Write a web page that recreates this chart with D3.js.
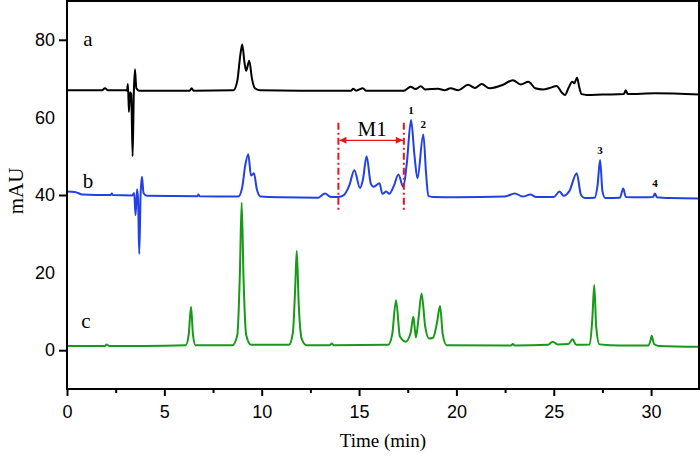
<!DOCTYPE html>
<html>
<head>
<meta charset="utf-8">
<script src="https://cdn.jsdelivr.net/npm/d3@7/dist/d3.min.js"></script>
<style>
  html, body { margin: 0; padding: 0; background: #fff; }
  svg { display: block; }
</style>
</head>
<body>
<svg id="chart" width="700" height="461"></svg>
<script>
// ---- data (time in min, absorbance in mAU) ----
const traceA = [
  [0,67],[1.8,67],[1.95,67.5],[2.1,67],[3.0,67],[3.08,66.9],[3.13,68.6],[3.18,61.4],[3.24,66.5],
  [3.3,66],[3.37,50],[3.43,66],[3.49,72.4],[3.56,67.5],[3.7,66.9],[6.3,66.9],[6.4,67.5],[6.5,66.9],
  [8.55,67],[8.75,69.5],[8.9,76],[9.0,78.8],[9.12,74],[9.2,72],[9.36,74.6],[9.5,70],[9.65,67.5],
  [9.9,67],[12,66.9],[14.6,66.9],[14.7,67.4],[14.85,66.9],[15.2,67.5],[15.35,66.9],[17.3,66.9],
  [17.65,67.9],[17.9,67.3],[18.17,68],[18.4,67.2],[19.06,67.4],[19.4,67],[19.7,67.5],[20.1,67],
  [20.6,68.4],[20.95,67.6],[21.3,68.6],[21.7,67.5],[22.4,68.4],[22.9,69.6],[23.3,68.5],[23.7,69.2],
  [24.05,67.5],[24.45,67.2],[24.8,67.6],[25.15,68.1],[25.4,66.5],[25.58,65.8],[25.75,67.5],
  [25.95,69.2],[26.05,68.8],[26.2,70.2],[26.3,68],[26.43,66],[26.7,65.8],[27.5,65.9],[28.6,66],
  [28.7,67],[28.8,66],[29.5,66.1],[30.2,66.2],[32.5,65.9]
];
const traceB = [
  [0,40.9],[0.4,40.8],[0.8,40.1],[1.5,40],[2.25,40],[2.3,40.4],[2.35,40],[3.35,39.9],[3.45,40.5],
  [3.52,34.8],[3.6,41.5],[3.65,39],[3.71,24.8],[3.78,40],[3.85,44.7],[3.93,40.5],[4.1,39.8],
  [6.7,39.7],[6.75,40.1],[6.8,39.7],[8.8,39.6],[9.0,42],[9.15,47.5],[9.31,50.5],[9.45,45],
  [9.6,45.6],[9.75,41.5],[9.95,39.6],[11,39.4],[12.9,39.3],[13.25,40.4],[13.55,39.5],[13.94,39.5],
  [14.2,39.9],[14.5,42.5],[14.76,46.4],[15.05,41.8],[15.2,44],[15.39,50],[15.6,43],[15.75,42.1],
  [16.05,43],[16.2,40.3],[16.4,40.9],[16.55,40.3],[16.8,42.5],[17.02,45.3],[17.27,42.1],[17.45,48],
  [17.67,59.3],[17.85,50],[18.0,44.3],[18.3,55.6],[18.45,45],[18.56,39.7],[18.8,39.5],[20,39.4],
  [22.5,39.6],[23.0,40.4],[23.4,39.6],[23.8,40.1],[24.1,39.5],[25,39.5],[25.3,40.9],[25.5,39.8],
  [25.8,41],[26.18,45.6],[26.4,40],[26.6,39.2],[27.1,39.3],[27.25,42.5],[27.38,49.0],[27.5,41],
  [27.65,39.2],[28.4,39.3],[28.57,41.7],[28.7,39.5],[29.5,39.4],[30.1,39.5],[30.2,40.4],[30.3,39.4],
  [31,39.2],[32.5,39.1]
];
const traceC = [
  [0,1.1],[1.95,1.1],[2.04,1.5],[2.15,1.1],[4,1.1],[6.1,1.3],[6.25,4],[6.37,11.2],[6.47,4],[6.6,1.3],
  [8.5,1.3],[8.75,4],[8.88,20],[8.97,38.0],[9.07,18],[9.2,4],[9.45,1.4],[11.4,1.4],[11.6,4.5],
  [11.72,16],[11.8,25.6],[11.9,12],[12.05,3],[12.3,1.3],[13.5,1.3],[13.6,1.7],[13.7,1.3],[16.5,1.4],
  [16.7,4],[16.9,12.9],[17.1,3.5],[17.4,2.2],[17.65,4.5],[17.79,8.6],[17.92,3.3],[18.05,8],
  [18.21,14.6],[18.4,6],[18.6,3],[18.8,3.2],[19.0,7],[19.16,11.4],[19.3,4],[19.5,1.3],[22.8,1.2],
  [22.9,1.6],[23.0,1.2],[24.7,1.4],[24.95,2.2],[25.2,1.5],[25.75,1.6],[25.97,2.8],[26.15,1.4],
  [26.85,1.5],[26.98,8],[27.08,16.8],[27.18,6],[27.35,1.5],[28.4,1.2],[29.85,1.2],[29.97,2.5],
  [30.03,3.7],[30.15,1.6],[30.4,1.1],[32.5,0.9]
];
const traceNames = ["a", "b", "c"];
const xTicks = [0, 5, 10, 15, 20, 25, 30];
const xMinorTicks = [2.5, 7.5, 12.5, 17.5, 22.5, 27.5, 32.5];
const yTickLabels = [0, 20, 40, 60, 80];
const yTickMarks = [0, 40, 80];
const peakLabels = [
  {label: "1", t: 17.67, v: 59.3},
  {label: "2", t: 18.3, v: 55.6},
  {label: "3", t: 27.38, v: 49.0},
  {label: "4", t: 30.2, v: 40.4}
];
const m1Range = [13.94, 17.3];
const m1Label = "M1";

// ---- layout ----
const svg = d3.select("#chart");
const L = 67, R = 699, T = 1, B = 389;
const x = d3.scaleLinear().domain([0, 32.46]).range([L, R]);
const y = d3.scaleLinear().domain([-10, 90]).range([B, T]);

const line = d3.line().x(d => x(d[0])).y(d => y(d[1])).curve(d3.curveMonotoneX);

const colors = ["#000000", "#2141e6", "#179a17"];
[traceA, traceB, traceC].forEach((tr, i) => {
  svg.append("path").datum(tr).attr("d", line)
    .attr("fill", "none").attr("stroke", colors[i])
    .attr("stroke-width", 2).attr("stroke-linejoin", "round");
});

// frame
svg.append("rect").attr("x", L).attr("y", T).attr("width", R - L).attr("height", B - T)
  .attr("fill", "none").attr("stroke", "#000").attr("stroke-width", 2);

// x axis
const xAxis = d3.axisBottom(x).tickValues(xTicks).tickSize(7).tickSizeOuter(0).tickPadding(9);
const gx = svg.append("g").attr("transform", `translate(0,${B})`).call(xAxis);
gx.select(".domain").remove();
gx.selectAll(".tick line").attr("stroke-width", 2);
gx.selectAll(".tick text").attr("font-family", "'Liberation Sans', Arial, sans-serif")
  .attr("font-size", 18).attr("fill", "#000");
const xMinor = d3.axisBottom(x).tickValues(xMinorTicks.filter(v => v < 32.46)).tickSize(4).tickFormat("");
const gxm = svg.append("g").attr("transform", `translate(0,${B})`).call(xMinor);
gxm.select(".domain").remove();
gxm.selectAll(".tick line").attr("stroke-width", 2);

// y axis
const yAxisLabels = d3.axisLeft(y).tickValues(yTickLabels).tickSize(0).tickPadding(12);
const gy = svg.append("g").attr("transform", `translate(${L},0)`).call(yAxisLabels);
gy.select(".domain").remove();
gy.selectAll(".tick text").attr("font-family", "'Liberation Sans', Arial, sans-serif")
  .attr("font-size", 18).attr("fill", "#000");
const yAxisMarks = d3.axisLeft(y).tickValues(yTickMarks).tickSize(8).tickFormat("");
const gym = svg.append("g").attr("transform", `translate(${L},0)`).call(yAxisMarks);
gym.select(".domain").remove();
gym.selectAll(".tick line").attr("stroke-width", 2);

// axis titles
svg.append("text").attr("x", (L + R) / 2).attr("y", 447).attr("text-anchor", "middle")
  .attr("font-family", "'Liberation Serif', 'Times New Roman', serif").attr("font-size", 19)
  .text("Time (min)");
svg.append("text").attr("transform", "translate(23,191) rotate(-90)").attr("text-anchor", "middle")
  .attr("font-family", "'Liberation Serif', 'Times New Roman', serif").attr("font-size", 21)
  .text("mAU");

// trace labels
const traceLabelPos = [[88, 46], [88, 188], [86, 328]];
traceNames.forEach((n, i) => {
  svg.append("text").attr("x", traceLabelPos[i][0]).attr("y", traceLabelPos[i][1])
    .attr("text-anchor", "middle")
    .attr("font-family", "'Liberation Serif', 'Times New Roman', serif").attr("font-size", 21)
    .text(n);
});

// peak labels
svg.selectAll(".pk").data(peakLabels).enter().append("text")
  .attr("x", d => x(d.t)).attr("y", d => y(d.v) - 6).attr("text-anchor", "middle")
  .attr("font-family", "'Liberation Serif', 'Times New Roman', serif").attr("font-weight", "bold")
  .attr("font-size", 11).text(d => d.label);

// M1 annotation
const red = "#e8141c";
const defs = svg.append("defs");
defs.append("marker").attr("id", "arr").attr("viewBox", "0 0 10 10").attr("refX", 10).attr("refY", 5)
  .attr("markerWidth", 9).attr("markerHeight", 7).attr("markerUnits", "userSpaceOnUse")
  .attr("orient", "auto-start-reverse")
  .append("path").attr("d", "M0,0 L10,5 L0,10 z").attr("fill", red);
const yTop = 58.6, yBot = 36.1;
m1Range.forEach(t => {
  svg.append("line").attr("x1", x(t)).attr("x2", x(t)).attr("y1", y(yTop)).attr("y2", y(yBot))
    .attr("stroke", red).attr("stroke-width", 2).attr("stroke-dasharray", "7,3,2,3");
});
svg.append("line").attr("x1", x(m1Range[0]) + 1).attr("x2", x(m1Range[1]) - 1)
  .attr("y1", y(54.1)).attr("y2", y(54.1))
  .attr("stroke", red).attr("stroke-width", 1.2)
  .attr("marker-start", "url(#arr)").attr("marker-end", "url(#arr)");
svg.append("text").attr("x", (x(m1Range[0]) + x(m1Range[1])) / 2 + 1).attr("y", 136)
  .attr("text-anchor", "middle")
  .attr("font-family", "'Liberation Serif', 'Times New Roman', serif").attr("font-size", 21)
  .text(m1Label);
</script>
</body>
</html>
